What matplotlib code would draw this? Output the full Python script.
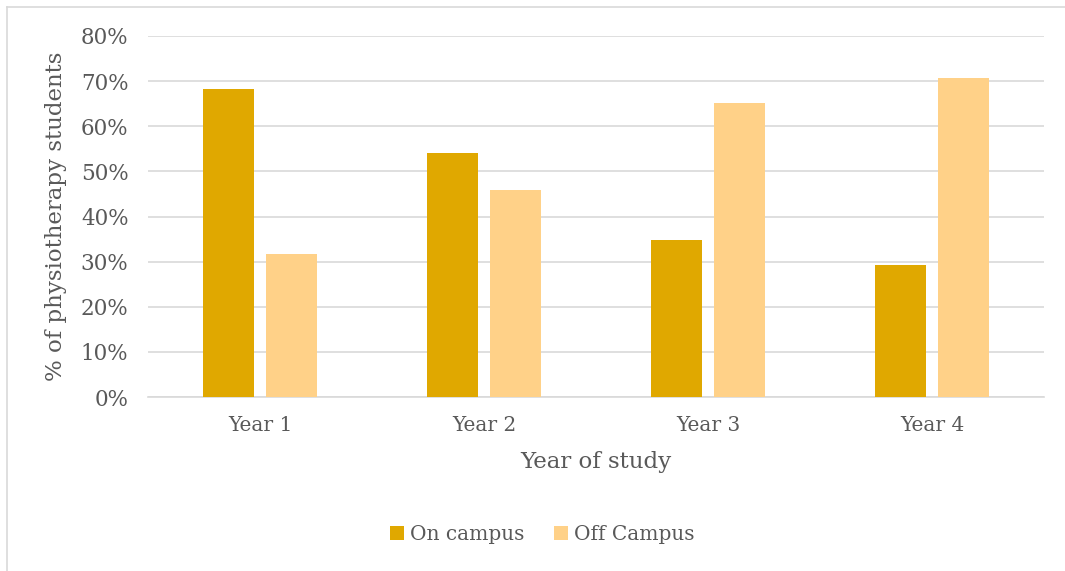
import matplotlib.pyplot as plt
import numpy as np
from matplotlib.lines import Line2D

years = ["Year 1", "Year 2", "Year 3", "Year 4"]
on_campus = [0.683, 0.541, 0.348, 0.293]
off_campus = [0.317, 0.459, 0.652, 0.707]
series_names = ["On campus", "Off Campus"]

ON_COLOR = "#E0A800"
OFF_COLOR = "#FFD188"
TEXT = "#595959"
GRID = "#D9D9D9"

plt.rcParams['font.family'] = ['DejaVu Serif']

fig = plt.figure(figsize=(10.65, 5.71), dpi=100)
ax = fig.add_axes([148 / 1065, 174 / 571, 896 / 1065, 361 / 571])

# chart frame: only the left and top edges show in the picture
fx, fy = 6.5 / 1065, (571 - 7) / 571
fig.lines.append(Line2D([fx, fx], [0, fy], transform=fig.transFigure,
                        color=GRID, linewidth=1.2))
fig.lines.append(Line2D([fx, 1], [fy, fy], transform=fig.transFigure,
                        color=GRID, linewidth=1.2))

x = np.arange(len(years))
w = 0.225
off = 0.1415
ax.bar(x - off, on_campus, w, color=ON_COLOR, label=series_names[0], zorder=3)
ax.bar(x + off, off_campus, w, color=OFF_COLOR, label=series_names[1], zorder=3)

ax.set_xlim(-0.5, len(years) - 0.5)
ax.set_ylim(0, 0.8)
ticks = np.arange(0, 0.81, 0.1)
ax.set_yticks(ticks)
ax.set_yticklabels([f"{int(round(v * 100))}%" for v in ticks])
ax.set_xticks(x)
ax.set_xticklabels(years)
ax.grid(axis='y', color=GRID, linewidth=1.2, zorder=0)
for s in ['top', 'right', 'left']:
    ax.spines[s].set_visible(False)
ax.spines['bottom'].set_color(GRID)
ax.spines['bottom'].set_linewidth(1.2)
ax.tick_params(axis='both', length=0, colors=TEXT)
ax.tick_params(axis='x', pad=14, labelsize=14.5)
ax.tick_params(axis='y', pad=14, labelsize=15.5)

ax.set_xlabel("Year of study", color=TEXT, fontsize=16.5, labelpad=11)
ax.set_ylabel("% of physiotherapy students", color=TEXT, fontsize=16.5, labelpad=10)

leg = ax.legend(loc='center', bbox_to_anchor=(0.44, -0.38), ncol=2, frameon=False,
                fontsize=14.5, handlelength=0.7, handleheight=0.7, handletextpad=0.3,
                columnspacing=1.5)
for t in leg.get_texts():
    t.set_color(TEXT)

fig.savefig("out.png", dpi=100)
